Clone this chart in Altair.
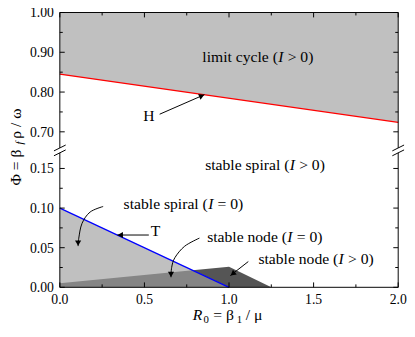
import altair as alt
import pandas as pd

FONT = "Liberation Serif"

# ---------------- data ----------------
R0_H = [0.0, 2.0]
phi_H = [0.845, 0.724]
R0_T = [0.0, 1.0]
phi_T = [0.100, 0.000]
R0_node0 = [0.0, 0.785, 1.0]
phi_node0 = [0.005, 0.0215, 0.0]
R0_node1 = [0.785, 1.0, 1.25]
phi_node1_top = [0.0215, 0.026, 0.0]
phi_node1_bot = [0.0215, 0.0, 0.0]

x_dom = [0.0, 2.0]
LOW_TOP = 0.1728      # top of the lower (0 .. 0.17) part of the broken axis
UP_BOT = 0.6533       # bottom of the upper (0.65 .. 1.0) part
UP_K = 0.502          # upper part is drawn at about half the scale of the lower part
y_top = LOW_TOP + (1.0 - UP_BOT) * UP_K

x_major = [0.0, 0.5, 1.0, 1.5, 2.0]
x_labels = ["0.0", "0.5", "1.0", "1.5", "2.0"]
x_minor = [0.25, 0.75, 1.25, 1.75]
y_major = [0.00, 0.05, 0.10, 0.15, 0.70, 0.80, 0.90, 1.00]
y_labels = ["0.00", "0.05", "0.10", "0.15", "0.70", "0.80", "0.90", "1.00"]
y_minor = [0.025, 0.075, 0.125, 0.75, 0.85, 0.95]

# region labels: position of the italic "I", text before / after it
lab_R0 = [1.306, 1.374, 0.892, 1.360, 1.663]
lab_phi = [0.888, 0.1547, 0.105, 0.0633, 0.0354]
lab_pre = ["limit cycle (", "stable spiral (", "stable spiral (", "stable node (", "stable node ("]
lab_post = ["> 0)", "> 0)", "= 0)", "= 0)", "> 0)"]

# curve letters
let_R0 = [0.526, 0.565]
let_phi = [0.739, 0.0712]
let_txt = ["H", "T"]

# arrows
arrows = {
    "H": ([0.590, 0.855], [0.7443, 0.7935]),
    "T": ([0.526, 0.34], [0.066, 0.066]),
    "s0": ([0.256, 0.179, 0.131, 0.112, 0.108], [0.102, 0.095, 0.0806, 0.062, 0.052]),
    "n0": ([0.825, 0.738, 0.680, 0.661, 0.657], [0.0621, 0.0519, 0.0374, 0.0251, 0.0127]),
    "n1": ([1.114, 1.008], [0.0325, 0.0148]),
}
head_R0 = [0.839, 0.357, 0.108, 0.657, 1.022]
head_phi = [0.7906, 0.066, 0.0557, 0.0164, 0.0171]
head_ang = [337, 180, 90, 90, 142]

W, H = 346, 281
HB = 141   # pixel row of the axis break, from the top
dummy = pd.DataFrame({"k": [0]})


def mapexpr(f):
    return f"datum.{f} > 0.4 ? {LOW_TOP} + (datum.{f} - {UP_BOT}) * {UP_K} : datum.{f}"


def xs(field):
    return alt.X(f"{field}:Q", scale=alt.Scale(domain=x_dom, nice=False, zero=False), axis=None)


def ys(field):
    return alt.Y(f"{field}:Q", scale=alt.Scale(domain=[0, y_top], nice=False, zero=False), axis=None)


def rule(x1, x2, y1, y2, color="black", sw=1):
    return alt.Chart(dummy).mark_rule(color=color, strokeWidth=sw).encode(
        x=alt.value(x1), x2=alt.value(x2), y=alt.value(y1), y2=alt.value(y2))


def yticks(vals, ln):
    c = alt.Chart(pd.DataFrame({"v": vals})).transform_calculate(yv=mapexpr("v"))
    return [
        c.mark_rule(color="black").encode(y=ys("yv"), x=alt.value(0), x2=alt.value(ln)),
        c.mark_rule(color="black").encode(y=ys("yv"), x=alt.value(W), x2=alt.value(W - ln)),
    ]


def xticks(vals, ln):
    c = alt.Chart(pd.DataFrame({"v": vals}))
    return [
        c.mark_rule(color="black").encode(x=xs("v"), y=alt.value(0), y2=alt.value(ln)),
        c.mark_rule(color="black").encode(x=xs("v"), y=alt.value(H), y2=alt.value(H - ln)),
    ]


def txt(t, x, y, size=16, style="normal", angle=0, baseline="alphabetic"):
    return alt.Chart(pd.DataFrame({"t": [t]})).mark_text(
        font=FONT, fontSize=size, fontStyle=style, angle=angle, align="left", baseline=baseline, color="black"
    ).encode(text="t:N", x=alt.value(x), y=alt.value(y))


layers = []

# axis titles
layers += [
    txt("R", 136, H + 33, 16, "italic"),
    txt("0", 147, H + 36, 11),
    txt("= β", 157, H + 33, 16),
    txt("1", 181, H + 36, 11),
    txt("/ μ", 190, H + 33, 16),
    txt("Φ = β", -45, HB + 36, 16, angle=270, baseline="middle"),
    txt("f", -41, HB - 6, 11, "italic", angle=270, baseline="middle"),
    txt("ρ / ω", -45, HB - 12, 16, angle=270, baseline="middle"),
]

# filled regions and curves
dfH = pd.DataFrame({"R0": R0_H, "phi": phi_H, "one": [1.0, 1.0]})
layers.append(alt.Chart(dfH).transform_calculate(yv=mapexpr("phi"), y1=mapexpr("one")).mark_area(
    color="#c0c0c0", opacity=1).encode(x=xs("R0"), y=ys("yv"), y2="y1:Q"))
layers.append(alt.Chart(dfH).transform_calculate(yv=mapexpr("phi")).mark_line(
    color="#ff0000", strokeWidth=1.3).encode(x=xs("R0"), y=ys("yv")))

dfT = pd.DataFrame({"R0": R0_T, "phi": phi_T})
layers.append(alt.Chart(dfT).mark_area(color="#c0c0c0", opacity=1).encode(x=xs("R0"), y=ys("phi"), y2=alt.datum(0)))
df0 = pd.DataFrame({"R0": R0_node0, "phi": phi_node0})
layers.append(alt.Chart(df0).mark_area(color="#858585", opacity=1).encode(x=xs("R0"), y=ys("phi"), y2=alt.datum(0)))
df1 = pd.DataFrame({"R0": R0_node1, "top": phi_node1_top, "bot": phi_node1_bot})
layers.append(alt.Chart(df1).mark_area(color="#555555", opacity=1).encode(x=xs("R0"), y=ys("top"), y2="bot:Q"))
layers.append(alt.Chart(dfT).mark_line(color="#0000ff", strokeWidth=1.3).encode(x=xs("R0"), y=ys("phi")))

# ticks
layers += yticks(y_major, 5)
layers += yticks(y_minor, 3)
layers += xticks(x_major, 5)
layers += xticks(x_minor, 3)

# frame with the axis break
g1, g2 = HB - 2.5, HB + 2.5
layers += [
    rule(0, W, 0, 0), rule(0, W, H, H),
    rule(0, 0, 0, g1), rule(0, 0, g2, H), rule(W, W, 0, g1), rule(W, W, g2, H),
    rule(-6, 6, g1 + 3, g1 - 3), rule(-6, 6, g2 + 3, g2 - 3),
    rule(W - 6, W + 6, g1 + 3, g1 - 3), rule(W - 6, W + 6, g2 + 3, g2 - 3),
]

# arrows
rows = []
for k, (rx, ry) in arrows.items():
    for i, (a, b) in enumerate(zip(rx, ry)):
        rows.append({"id": k, "R0": a, "phi": b, "o": i})
layers.append(alt.Chart(pd.DataFrame(rows)).transform_calculate(yv=mapexpr("phi")).mark_line(
    color="black", strokeWidth=1, interpolate="cardinal").encode(
    x=xs("R0"), y=ys("yv"), detail="id:N", order="o:Q"))
layers.append(alt.Chart(pd.DataFrame({"R0": head_R0, "phi": head_phi, "a": head_ang})).transform_calculate(
    yv=mapexpr("phi")).mark_point(shape="triangle-right", filled=True, size=40, color="black", opacity=1).encode(
    x=xs("R0"), y=ys("yv"), angle=alt.Angle("a:Q", scale=None)))

# letters H, T
layers.append(alt.Chart(pd.DataFrame({"R0": let_R0, "phi": let_phi, "t": let_txt})).transform_calculate(
    yv=mapexpr("phi")).mark_text(font=FONT, fontSize=16, color="black", baseline="middle").encode(
    x=xs("R0"), y=ys("yv"), text="t:N"))

# region labels with italic I
dfl = pd.DataFrame({"R0": lab_R0, "phi": lab_phi, "pre": lab_pre, "post": lab_post, "I": ["I"] * len(lab_R0)})
bl = alt.Chart(dfl).transform_calculate(yv=mapexpr("phi"))
layers += [
    bl.mark_text(align="right", baseline="middle", dx=-3, font=FONT, fontSize=16, color="black").encode(
        x=xs("R0"), y=ys("yv"), text="pre:N"),
    bl.mark_text(align="center", baseline="middle", font=FONT, fontSize=16, fontStyle="italic", color="black").encode(
        x=xs("R0"), y=ys("yv"), text="I:N"),
    bl.mark_text(align="left", baseline="middle", dx=7, font=FONT, fontSize=16, color="black").encode(
        x=xs("R0"), y=ys("yv"), text="post:N"),
]

# tick labels
layers.append(alt.Chart(pd.DataFrame({"v": y_major, "lab": y_labels})).transform_calculate(
    yv=mapexpr("v")).mark_text(font=FONT, fontSize=14, align="right", baseline="alphabetic", dy=5,
                               color="black").encode(y=ys("yv"), x=alt.value(-6), text="lab:N"))
layers.append(alt.Chart(pd.DataFrame({"v": x_major, "lab": x_labels})).mark_text(
    font=FONT, fontSize=14, align="center", baseline="top", color="black").encode(
    x=xs("v"), y=alt.value(H + 6), text="lab:N"))

chart = alt.layer(*layers).properties(
    width=W, height=H, padding={"left": 0, "top": -5, "right": 0, "bottom": 0}
).configure_view(stroke=None)

chart.save("out.html", embed_options={"renderer": "svg", "actions": False})
